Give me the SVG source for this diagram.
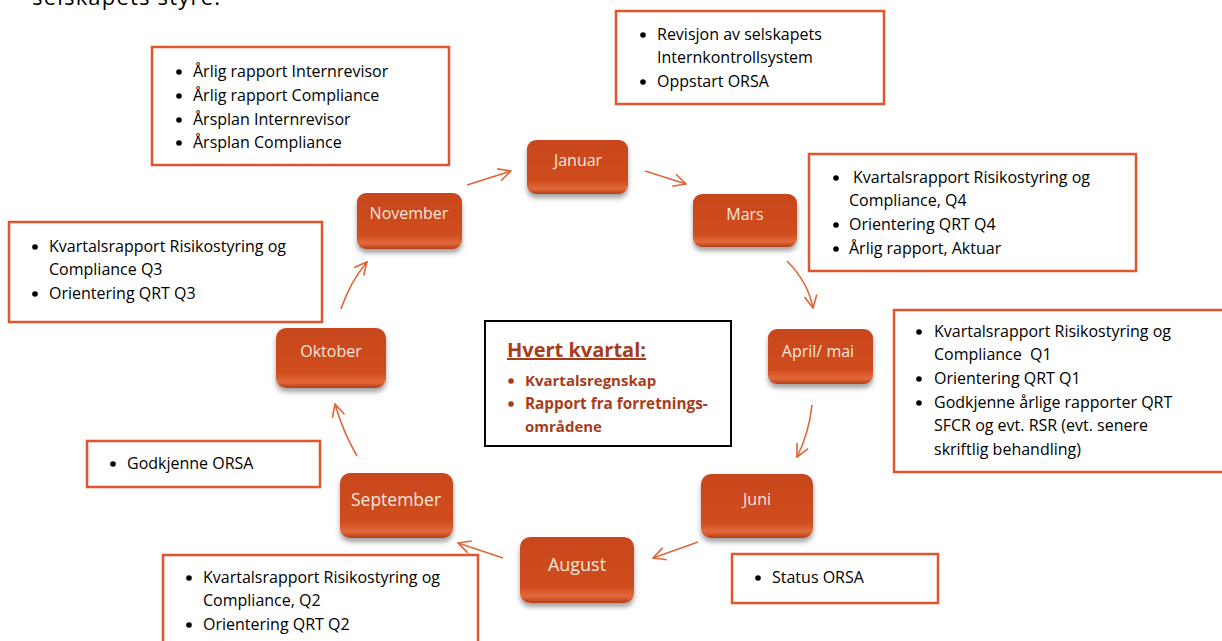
<svg xmlns="http://www.w3.org/2000/svg" width="1222" height="641" viewBox="0 0 1222 641">
<style>
.box{fill:#fff;stroke:#E0552B;stroke-width:2.5}
.t{font-family:"Open Sans","Liberation Sans",sans-serif;font-size:16px;fill:#000}
.b{fill:#000}
.nl{font-family:"Open Sans","Liberation Sans",sans-serif;font-size:16px;fill:#F6E7DD;text-anchor:middle}
.btn{fill:url(#bg);filter:url(#sh)}
.arr{fill:none;stroke:#E0663A;stroke-width:1.6;marker-end:url(#ah)}
.ct{font-family:"Open Sans","Liberation Sans",sans-serif;font-weight:bold;fill:#A83C18}
</style>
<defs>
<linearGradient id="bg" x1="0" y1="0" x2="0" y2="1">
<stop offset="0" stop-color="#C8461A"/>
<stop offset="0.75" stop-color="#CF4D1F"/>
<stop offset="0.9" stop-color="#E2693A"/>
<stop offset="1" stop-color="#B53F17"/>
</linearGradient>
<filter id="sh" x="-20%" y="-20%" width="140%" height="160%">
<feDropShadow dx="0" dy="4" stdDeviation="2.5" flood-color="#555" flood-opacity="0.55"/>
</filter>
<marker id="ah" viewBox="0 0 12 12" refX="11" refY="6" markerWidth="15" markerHeight="15" markerUnits="userSpaceOnUse" orient="auto">
<path d="M1,1 L11,6 L1,11" fill="none" stroke="#E0663A" stroke-width="1.3"/>
</marker>
</defs>
<rect width="1222" height="641" fill="#fff"/>
<text class="t" x="32" y="5" style="font-size:22px" textLength="188">selskapets styre.</text>

<g id="connectors">
<path class="arr" d="M467,185 L511,171"/>
<path class="arr" d="M645,171 L686,184"/>
<path class="arr" d="M787,261 Q808,282 813,308"/>
<path class="arr" d="M812,405 Q809,433 797,457"/>
<path class="arr" d="M698,542 L653,558"/>
<path class="arr" d="M503,558 L458,543"/>
<path class="arr" d="M357,456 Q343,432 335,404"/>
<path class="arr" d="M341,309 Q350,282 367,262"/>
</g>

<g id="n-januar"><rect class="btn" x="527" y="140" width="101" height="54" rx="9"/><text class="nl" x="578" y="166">Januar</text></g>
<g id="n-mars"><rect class="btn" x="693" y="194" width="104" height="53" rx="9"/><text class="nl" x="745" y="220">Mars</text></g>
<g id="n-april"><rect class="btn" x="768" y="329" width="105" height="55" rx="9"/><text class="nl" x="818" y="357">April/ mai</text></g>
<g id="n-juni"><rect class="btn" x="701" y="474" width="112" height="64" rx="10"/><text class="nl" x="757" y="505">Juni</text></g>
<g id="n-august"><rect class="btn" x="520" y="537" width="114" height="66" rx="10"/><text class="nl" x="577" y="571" style="font-size:18px">August</text></g>
<g id="n-september"><rect class="btn" x="340" y="473" width="113" height="65" rx="10"/><text class="nl" x="396" y="506" style="font-size:17.5px">September</text></g>
<g id="n-oktober"><rect class="btn" x="276" y="328" width="110" height="60" rx="10"/><text class="nl" x="331" y="357">Oktober</text></g>
<g id="n-november"><rect class="btn" x="357" y="193" width="105" height="56" rx="9"/><text class="nl" x="409" y="219">November</text></g>

<g id="box-jan">
<rect class="box" x="616" y="11" width="268" height="93"/>
<circle class="b" cx="643" cy="35" r="2.8"/><text class="t" x="657" y="40">Revisjon av selskapets</text>
<text class="t" x="657" y="63">Internkontrollsystem</text>
<circle class="b" cx="643" cy="82" r="2.8"/><text class="t" x="657" y="87">Oppstart ORSA</text>
</g>
<g id="box-nov">
<rect class="box" x="152" y="47" width="297" height="118"/>
<circle class="b" cx="179" cy="72" r="2.8"/><text class="t" x="193" y="77">Årlig rapport Internrevisor</text>
<circle class="b" cx="179" cy="96" r="2.8"/><text class="t" x="193" y="101">Årlig rapport Compliance</text>
<circle class="b" cx="179" cy="120" r="2.8"/><text class="t" x="193" y="125">Årsplan Internrevisor</text>
<circle class="b" cx="179" cy="143" r="2.8"/><text class="t" x="193" y="148">Årsplan Compliance</text>
</g>
<g id="box-mars">
<rect class="box" x="809" y="154" width="327" height="117"/>
<circle class="b" cx="836" cy="178" r="2.8"/><text class="t" x="853" y="183">Kvartalsrapport Risikostyring og</text>
<text class="t" x="849" y="206">Compliance, Q4</text>
<circle class="b" cx="836" cy="225" r="2.8"/><text class="t" x="849" y="230">Orientering QRT Q4</text>
<circle class="b" cx="836" cy="249" r="2.8"/><text class="t" x="849" y="254">Årlig rapport, Aktuar</text>
</g>
<g id="box-okt">
<rect class="box" x="9" y="222" width="313" height="100"/>
<circle class="b" cx="35" cy="247" r="2.8"/><text class="t" x="49" y="252">Kvartalsrapport Risikostyring og</text>
<text class="t" x="49" y="275">Compliance Q3</text>
<circle class="b" cx="35" cy="294" r="2.8"/><text class="t" x="49" y="299">Orientering QRT Q3</text>
</g>
<g id="box-april">
<rect class="box" x="894" y="310" width="340" height="162"/>
<circle class="b" cx="919" cy="332" r="2.8"/><text class="t" x="934" y="337">Kvartalsrapport Risikostyring og</text>
<text class="t" x="934" y="360" style="white-space:pre">Compliance  Q1</text>
<circle class="b" cx="919" cy="379" r="2.8"/><text class="t" x="934" y="384">Orientering QRT Q1</text>
<circle class="b" cx="919" cy="403" r="2.8"/><text class="t" x="934" y="408">Godkjenne årlige rapporter QRT</text>
<text class="t" x="934" y="431">SFCR og evt. RSR (evt. senere</text>
<text class="t" x="934" y="455">skriftlig behandling)</text>
</g>
<g id="box-sept">
<rect class="box" x="87" y="441" width="233" height="46"/>
<circle class="b" cx="113" cy="464" r="2.8"/><text class="t" x="127" y="469">Godkjenne ORSA</text>
</g>
<g id="box-juni">
<rect class="box" x="732" y="554" width="206" height="49"/>
<circle class="b" cx="758" cy="578" r="2.8"/><text class="t" x="772" y="583">Status ORSA</text>
</g>
<g id="box-aug">
<rect class="box" x="163" y="555" width="315" height="100"/>
<circle class="b" cx="189" cy="578" r="2.8"/><text class="t" x="203" y="583">Kvartalsrapport Risikostyring og</text>
<text class="t" x="203" y="606">Compliance, Q2</text>
<circle class="b" cx="189" cy="625" r="2.8"/><text class="t" x="203" y="630">Orientering QRT Q2</text>
</g>
<g id="box-kvartal">
<rect x="485" y="321" width="246" height="125" fill="#fff" stroke="#000" stroke-width="2"/>
<text class="ct" x="507" y="357" style="font-size:20px;text-decoration:underline">Hvert kvartal:</text>
<circle cx="511" cy="381" r="2.8" fill="#A83C18"/><text class="ct" x="525" y="386" style="font-size:15px">Kvartalsregnskap</text>
<circle cx="511" cy="404" r="2.8" fill="#A83C18"/><text class="ct" x="525" y="409" style="font-size:15.3px">Rapport fra forretnings-</text>
<text class="ct" x="525" y="432" style="font-size:15px">områdene</text>
</g>
</svg>
